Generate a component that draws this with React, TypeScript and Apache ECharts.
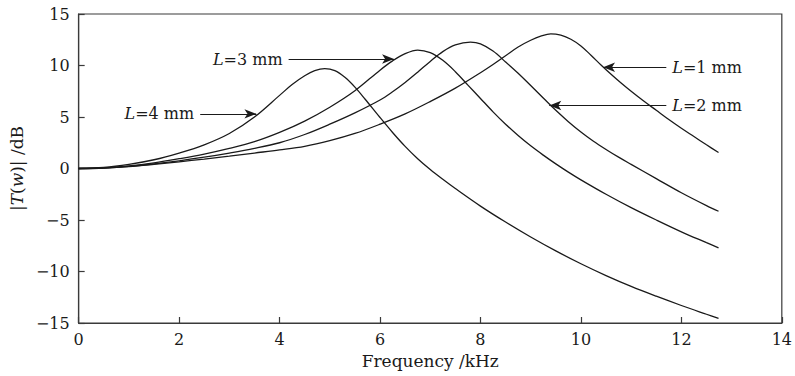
import React, { useEffect, useRef } from "react";
import * as echarts from "echarts";

// ---- data ----
const xL1 = [0, 0.5, 1, 1.5, 2, 2.5, 3, 3.5, 4, 4.5, 5, 5.5, 6, 6.5, 7, 7.5, 8, 8.25, 8.5, 8.75, 9, 9.2, 9.4, 9.6, 9.8, 10, 10.2, 10.4, 10.6, 10.8, 11, 11.25, 11.5, 11.75, 12, 12.25, 12.5, 12.74];
const yL1 = [0, 0.05, 0.18, 0.4, 0.65, 0.92, 1.2, 1.5, 1.8, 2.15, 2.7, 3.4, 4.3, 5.3, 6.5, 7.8, 9.3, 10.1, 10.95, 11.8, 12.45, 12.85, 13.08, 12.95, 12.55, 11.9, 11.0, 10.05, 9.15, 8.3, 7.5, 6.55, 5.65, 4.75, 3.9, 3.1, 2.3, 1.55];

const xL2 = [0, 0.5, 1, 1.5, 2, 2.5, 3, 3.5, 4, 4.5, 5, 5.5, 6, 6.25, 6.5, 6.75, 7, 7.25, 7.5, 7.8, 8, 8.25, 8.5, 8.75, 9, 9.25, 9.5, 9.75, 10, 10.25, 10.5, 10.75, 11, 11.5, 12, 12.5, 12.74];
const yL2 = [0, 0.05, 0.2, 0.45, 0.75, 1.1, 1.5, 1.95, 2.5, 3.3, 4.3, 5.4, 6.65, 7.45, 8.35, 9.35, 10.4, 11.35, 12.0, 12.26, 12.1, 11.4, 10.35, 9.25, 8.05, 6.85, 5.65, 4.55, 3.55, 2.65, 1.85, 1.1, 0.4, -0.98, -2.35, -3.6, -4.15];

const xL3 = [0, 0.5, 1, 1.5, 2, 2.5, 3, 3.5, 4, 4.5, 5, 5.5, 6, 6.25, 6.5, 6.75, 7, 7.25, 7.5, 7.75, 8, 8.25, 8.5, 8.75, 9, 9.25, 9.5, 9.75, 10, 10.5, 11, 11.5, 12, 12.5, 12.74];
const yL3 = [0, 0.06, 0.25, 0.55, 0.95, 1.4, 1.95, 2.6, 3.5, 4.6, 5.95, 7.55, 9.55, 10.45, 11.15, 11.5, 11.25, 10.5, 9.4, 8.1, 6.8, 5.5, 4.3, 3.2, 2.2, 1.3, 0.45, -0.35, -1.1, -2.5, -3.8, -5.0, -6.15, -7.2, -7.7];

const xL4 = [0, 0.5, 1, 1.5, 2, 2.5, 3, 3.5, 4, 4.25, 4.5, 4.7, 4.9, 5.1, 5.3, 5.5, 5.7, 6, 6.25, 6.5, 6.75, 7, 7.25, 7.5, 8, 8.5, 9, 9.5, 10, 10.5, 11, 11.5, 12, 12.5, 12.74];
const yL4 = [0, 0.1, 0.4, 0.85, 1.5, 2.3, 3.4, 5.0, 7.1, 8.15, 9.0, 9.5, 9.7, 9.5, 8.85, 7.9, 6.75, 4.95, 3.5, 2.15, 0.95, -0.1, -1.05, -1.95, -3.65, -5.2, -6.65, -8.0, -9.25, -10.4, -11.45, -12.4, -13.3, -14.15, -14.55];

// annotation arrows: label, start x, end x, y
const annoLabels = ["{i|L}=4 mm", "{i|L}=3 mm", "{i|L}=1 mm", "{i|L}=2 mm"];
const annoFromX = [2.42, 4.18, 11.7, 11.7];
const annoToX = [3.54, 6.28, 10.44, 9.37];
const annoY = [5.31, 10.63, 9.83, 6.12];

const FONT = "DejaVu Serif";
const INK = "#1a1a1a";
const AXIS = "#3a3a3a";

function pairs(xs: number[], ys: number[]) {
  return xs.map((x, i) => [x, ys[i]]);
}

export default function App() {
  const ref = useRef<HTMLDivElement>(null);
  useEffect(() => {
    if (!ref.current) return;
    const chart = echarts.init(ref.current, undefined, { renderer: "svg" });
    const curveStyle = { color: INK, width: 1.3 };
    const mkSeries = (name: string, xs: number[], ys: number[], extra: any = {}) => ({
      name,
      type: "line",
      data: pairs(xs, ys),
      smooth: 0.35,
      showSymbol: false,
      symbol: "none",
      lineStyle: curveStyle,
      emphasis: { disabled: true },
      silent: true,
      ...extra,
    });
    const markLine = {
      silent: true,
      symbol: ["none", "arrow"],
      symbolSize: [0, 11],
      lineStyle: { type: "solid", color: INK, width: 1.2 },
      label: {
        show: true,
        position: "start",
        distance: 6,
        formatter: (p: any) => p.name,
        fontFamily: FONT,
        fontSize: 16,
        color: INK,
        rich: { i: { fontFamily: FONT, fontStyle: "italic", fontSize: 16, color: INK } },
      },
      emphasis: { disabled: true },
      data: annoLabels.map((lab, i) => [
        { name: lab, coord: [annoFromX[i], annoY[i]], symbol: "none" },
        { coord: [annoToX[i], annoY[i]], symbol: "arrow", symbolSize: [7, 12] },
      ]),
    };
    const tickFmt = (v: number) => String(v).replace("-", "\u2212");
    const axisCommon = {
      type: "value",
      splitLine: { show: false },
      axisLine: { show: true, onZero: false, lineStyle: { color: AXIS, width: 1.2 } },
      axisTick: { show: true, inside: true, length: 6, lineStyle: { color: AXIS, width: 1.2 } },
      axisLabel: { fontFamily: FONT, fontSize: 16, color: INK, formatter: tickFmt },
    };
    chart.setOption({
      animation: false,
      grid: { left: 76, right: 12, top: 14, bottom: 53, show: true, borderColor: AXIS, borderWidth: 1.2 },
      xAxis: {
        ...axisCommon,
        min: 0,
        max: 14,
        interval: 2,
        axisLabel: { ...axisCommon.axisLabel, margin: 8 },
        name: "Frequency /kHz",
        nameLocation: "middle",
        nameGap: 29,
        nameTextStyle: { fontFamily: FONT, fontSize: 17, color: INK },
      },
      yAxis: {
        ...axisCommon,
        min: -15,
        max: 15,
        interval: 5,
        axisLabel: { ...axisCommon.axisLabel, margin: 9 },
        name: "|{i|T}({i|w})| /dB",
        nameLocation: "middle",
        nameGap: 43,
        nameRotate: 90,
        nameTextStyle: {
          fontFamily: FONT,
          fontSize: 17,
          color: INK,
          rich: { i: { fontFamily: FONT, fontStyle: "italic", fontSize: 17, color: INK } },
        },
      },
      series: [
        mkSeries("L=1 mm", xL1, yL1, { markLine }),
        mkSeries("L=2 mm", xL2, yL2),
        mkSeries("L=3 mm", xL3, yL3),
        mkSeries("L=4 mm", xL4, yL4),
      ],
    });
    return () => chart.dispose();
  }, []);
  return (
    <div
      ref={ref}
      style={{ position: "fixed", left: 0, top: 0, width: 795, height: 376, background: "#fff" }}
    />
  );
}
